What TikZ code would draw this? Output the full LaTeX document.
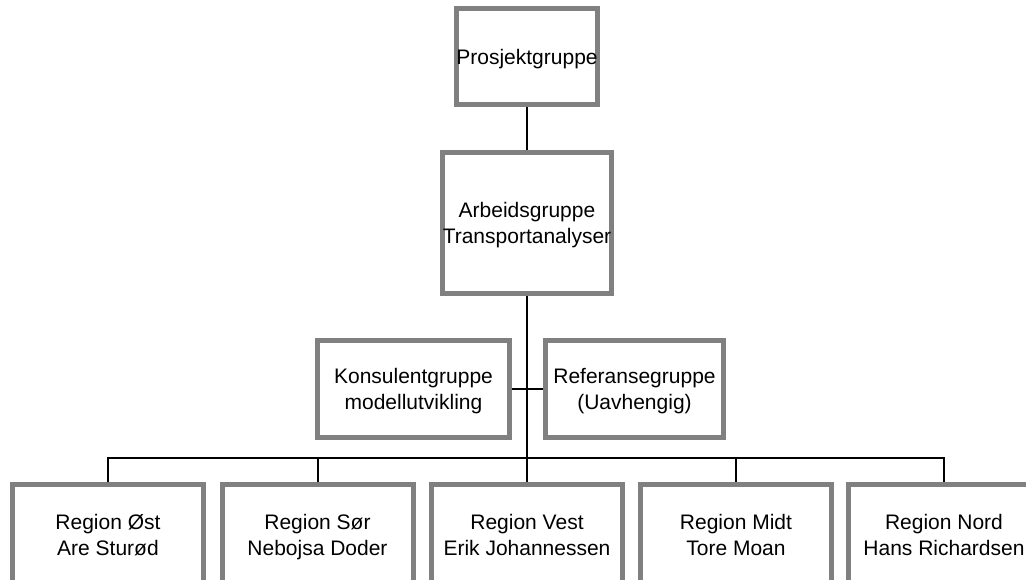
\documentclass[tikz,border=0pt]{standalone}
\usepackage{fontspec}
\setmainfont{Liberation Sans}
\definecolor{boxgray}{HTML}{808080}
\begin{document}
\begin{tikzpicture}[x=1pt,y=-1pt,
  orgbox/.style={draw=boxgray, line width=5pt, rectangle, inner sep=0pt, align=center,
    font=\fontsize{21}{26}\selectfont, fill=white, text depth=0pt},
  conn/.style={draw=black, line width=2pt}]
\useasboundingbox (0,0) rectangle (1026,580);
\node[orgbox, minimum width=139pt, minimum height=96pt] (pg) at (527,56.5) {Prosjektgruppe};
\node[orgbox, minimum width=164pt, minimum height=141pt] (arb) at (527,223) {Arbeidsgruppe\\Transportanalyser};
\node[orgbox, minimum width=192pt, minimum height=97pt] (kons) at (413.5,389) {Konsulentgruppe\\modellutvikling};
\node[orgbox, minimum width=178pt, minimum height=97pt] (ref) at (634.5,389) {Referansegruppe\\(Uavhengig)};
\node[orgbox, minimum width=191pt, minimum height=101pt] (r1) at (108,535) {Region Øst\\Are Sturød};
\node[orgbox, minimum width=191pt, minimum height=101pt] (r2) at (317.5,535) {Region Sør\\Nebojsa Doder};
\node[orgbox, minimum width=191pt, minimum height=101pt] (r3) at (527,535) {Region Vest\\Erik Johannessen};
\node[orgbox, minimum width=191pt, minimum height=101pt] (r4) at (736,535) {Region Midt\\Tore Moan};
\node[orgbox, minimum width=191pt, minimum height=101pt] (r5) at (944,535) {Region Nord\\Hans Richardsen};
\coordinate (bus) at (527,458);
\draw[conn] (pg.south) -- (arb.north);
\draw[conn] (arb.south) -- (r3.north);
\draw[conn] (kons.east) -- (ref.west);
\draw[conn] (r1.north) -- (r1.north |- bus) -| (r5.north);
\draw[conn] (r2.north) -- (r2.north |- bus);
\draw[conn] (r4.north) -- (r4.north |- bus);
\end{tikzpicture}
\end{document}
